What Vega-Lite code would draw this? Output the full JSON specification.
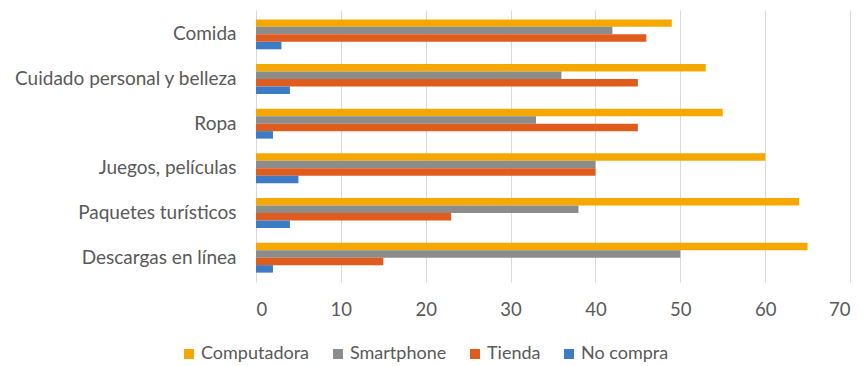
{
  "$schema": "https://vega.github.io/schema/vega-lite/v6.json",
  "autosize": {"type": "none"},
  "width": 594,
  "height": 272,
  "padding": {"left": 256, "top": 10, "right": 13, "bottom": 84},
  "background": "white",
  "data": {
    "values": [
      {"categoria": "Comida", "medio": "Computadora", "valor": 49},
      {"categoria": "Comida", "medio": "Smartphone", "valor": 42},
      {"categoria": "Comida", "medio": "Tienda", "valor": 46},
      {"categoria": "Comida", "medio": "No compra", "valor": 3},
      {"categoria": "Cuidado personal y belleza", "medio": "Computadora", "valor": 53},
      {"categoria": "Cuidado personal y belleza", "medio": "Smartphone", "valor": 36},
      {"categoria": "Cuidado personal y belleza", "medio": "Tienda", "valor": 45},
      {"categoria": "Cuidado personal y belleza", "medio": "No compra", "valor": 4},
      {"categoria": "Ropa", "medio": "Computadora", "valor": 55},
      {"categoria": "Ropa", "medio": "Smartphone", "valor": 33},
      {"categoria": "Ropa", "medio": "Tienda", "valor": 45},
      {"categoria": "Ropa", "medio": "No compra", "valor": 2},
      {"categoria": "Juegos, películas", "medio": "Computadora", "valor": 60},
      {"categoria": "Juegos, películas", "medio": "Smartphone", "valor": 40},
      {"categoria": "Juegos, películas", "medio": "Tienda", "valor": 40},
      {"categoria": "Juegos, películas", "medio": "No compra", "valor": 5},
      {"categoria": "Paquetes turísticos", "medio": "Computadora", "valor": 64},
      {"categoria": "Paquetes turísticos", "medio": "Smartphone", "valor": 38},
      {"categoria": "Paquetes turísticos", "medio": "Tienda", "valor": 23},
      {"categoria": "Paquetes turísticos", "medio": "No compra", "valor": 4},
      {"categoria": "Descargas en línea", "medio": "Computadora", "valor": 65},
      {"categoria": "Descargas en línea", "medio": "Smartphone", "valor": 50},
      {"categoria": "Descargas en línea", "medio": "Tienda", "valor": 15},
      {"categoria": "Descargas en línea", "medio": "No compra", "valor": 2}
    ]
  },
  "mark": {"type": "bar"},
  "encoding": {
    "y": {
      "field": "categoria",
      "type": "nominal",
      "sort": ["Comida", "Cuidado personal y belleza", "Ropa", "Juegos, películas", "Paquetes turísticos", "Descargas en línea"],
      "scale": {"paddingInner": 0.33, "paddingOuter": 0.21},
      "axis": {
        "title": null,
        "domain": false,
        "ticks": false,
        "labelPadding": 20,
        "labelLimit": 0,
        "labelFont": "Lato",
        "labelFontSize": 19,
        "labelColor": "#595959"
      }
    },
    "yOffset": {
      "field": "medio",
      "type": "nominal",
      "sort": ["Computadora", "Smartphone", "Tienda", "No compra"]
    },
    "x": {
      "field": "valor",
      "type": "quantitative",
      "scale": {"domain": [0, 70], "nice": false},
      "axis": {
        "title": null,
        "values": [0, 10, 20, 30, 40, 50, 60, 70],
        "domain": false,
        "ticks": false,
        "grid": true,
        "gridColor": "#D9D9D9",
        "gridWidth": 1,
        "labelPadding": 18,
        "labelFont": "Lato",
        "labelFontSize": 18.5,
        "labelColor": "#595959"
      }
    },
    "color": {
      "field": "medio",
      "type": "nominal",
      "scale": {
        "domain": ["Computadora", "Smartphone", "Tienda", "No compra"],
        "range": ["#F5A900", "#8C8C8C", "#E05B1E", "#3D7CC4"]
      },
      "legend": {
        "title": null,
        "orient": "none",
        "direction": "horizontal",
        "legendX": -76,
        "legendY": 335,
        "symbolType": "square",
        "symbolSize": 100,
        "symbolStrokeWidth": 0,
        "symbolOpacity": 1,
        "labelFont": "Lato",
        "labelFontSize": 18,
        "labelColor": "#595959",
        "labelOffset": 3,
        "columnPadding": 19
      }
    }
  },
  "config": {"view": {"stroke": null}}
}
